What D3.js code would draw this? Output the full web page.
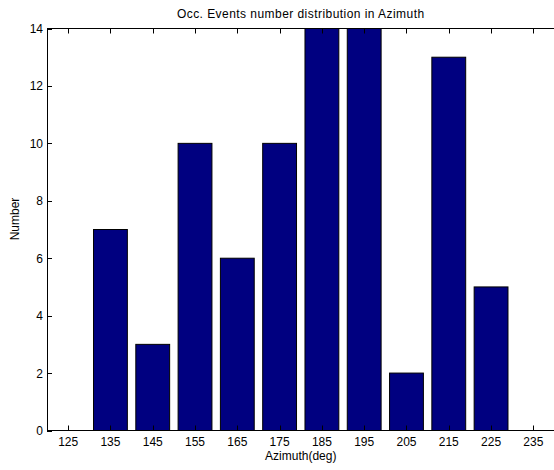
<!DOCTYPE html>
<html><head><meta charset="utf-8">
<script src="https://cdn.jsdelivr.net/npm/d3@7"></script>
<style>body{margin:0;background:#fff;} svg{display:block;} text{font-family:"Liberation Sans",Arial,sans-serif;}</style>
</head><body><svg id="c" width="554" height="470"></svg>
<script>
const categories = [125,135,145,155,165,175,185,195,205,215,225,235];
const values = [0,7,3,10,6,10,14,14,2,13,5,0];
const yTicks = [0,2,4,6,8,10,12,14];
const title = "Occ. Events number distribution in Azimuth";
const xLabel = "Azimuth(deg)";
const yLabel = "Number";

(function(){
const svg = d3.select("#c");
const W=554,H=470;
const pL=47, pR=554.5, pT=28.5, pB=430.5;
const x = d3.scaleLinear().domain([120,240]).range([pL,pR]);
const y = d3.scaleLinear().domain([0,14]).range([pB,pT]);
const bw = x(128)-x(120);

svg.append("g").selectAll("rect").data(categories.map((c,i)=>({c,v:values[i]})).filter(d=>d.v>0))
 .join("rect")
 .attr("x",d=>x(d.c)-bw/2).attr("width",bw)
 .attr("y",d=>y(d.v)).attr("height",d=>y(0)-y(d.v))
 .attr("fill","#000080").attr("stroke","#000").attr("stroke-width",1);

const ax = svg.append("g").attr("stroke","#000").attr("stroke-width",1).attr("fill","none");
ax.append("line").attr("x1",pL).attr("x2",W).attr("y1",pB).attr("y2",pB);
ax.append("line").attr("x1",pL).attr("x2",W).attr("y1",pT).attr("y2",pT);
ax.append("line").attr("x1",pL+0.5).attr("x2",pL+0.5).attr("y1",pT).attr("y2",pB);

const tl=5;
categories.forEach(c=>{
  const xx=Math.round(x(c))+0.5;
  ax.append("line").attr("x1",xx).attr("x2",xx).attr("y1",pB).attr("y2",pB-tl);
  ax.append("line").attr("x1",xx).attr("x2",xx).attr("y1",pT).attr("y2",pT+tl);
  svg.append("text").attr("x",x(c)).attr("y",446).attr("text-anchor","middle")
    .attr("font-size",12).text(c);
});
yTicks.forEach(t=>{
  const yy=Math.round(y(t))+0.5;
  ax.append("line").attr("x1",pL).attr("x2",pL+tl).attr("y1",yy).attr("y2",yy);
  svg.append("text").attr("x",pL-4).attr("y",y(t)+4.5).attr("text-anchor","end")
    .attr("font-size",12).text(t);
});
svg.append("text").attr("x",(pL+pR)/2).attr("y",18).attr("text-anchor","middle").attr("font-size",12).attr("letter-spacing",0.45).text(title);
svg.append("text").attr("x",(pL+pR)/2).attr("y",460).attr("text-anchor","middle").attr("font-size",12).text(xLabel);
svg.append("text").attr("transform",`translate(19,219) rotate(-90)`).attr("text-anchor","middle").attr("font-size",12).text(yLabel);
})();
</script></body></html>
